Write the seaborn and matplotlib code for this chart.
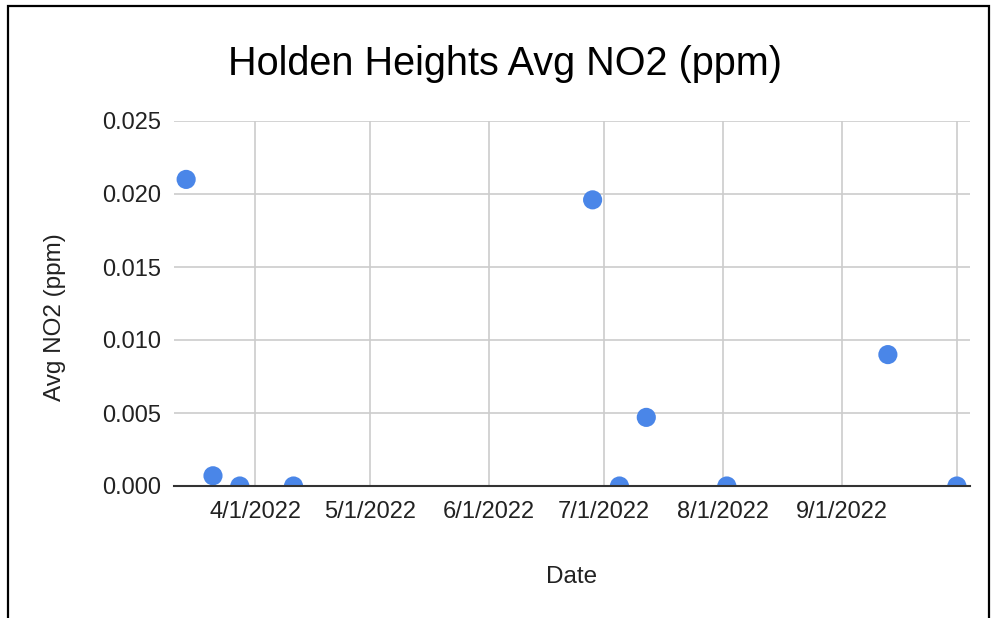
import matplotlib
matplotlib.use("Agg")
import matplotlib.pyplot as plt
import matplotlib.patches as mpatches
import pandas as pd
import seaborn as sns

# readings
dates = ["2022-03-14", "2022-03-21", "2022-03-28", "2022-04-11", "2022-06-28",
         "2022-07-05", "2022-07-12", "2022-08-02", "2022-09-13", "2022-10-01"]
no2 = [0.0210, 0.0007, 0.0000, 0.0000, 0.0196,
       0.0000, 0.0047, 0.0000, 0.0090, 0.0000]
month_ticks = ["2022-04-01", "2022-05-01", "2022-06-01", "2022-07-01",
               "2022-08-01", "2022-09-01", "2022-10-01"]
month_labels = ["4/1/2022", "5/1/2022", "6/1/2022", "7/1/2022",
                "8/1/2022", "9/1/2022", ""]
y_ticks = [0.0, 0.005, 0.010, 0.015, 0.020, 0.025]
dot_color = "#4a86e8"

df = pd.DataFrame({"Date": pd.to_datetime(dates), "Avg NO2 (ppm)": no2})

sns.set_style("white")
plt.rcParams["font.family"] = ["Liberation Sans", "DejaVu Sans"]

fig = plt.figure(figsize=(9.91, 6.18), dpi=100)
ax = fig.add_axes([174 / 991, 1 - 486 / 618, (970 - 174) / 991, (486 - 121) / 618])

sns.scatterplot(data=df, x="Date", y="Avg NO2 (ppm)", ax=ax, s=190,
                color=dot_color, edgecolor="none", zorder=3)
for coll in ax.collections:
    coll.set_facecolor([dot_color] * len(coll.get_offsets()))

# white strip under the zero line so the dots sitting on zero show only their top half
ax.add_patch(mpatches.Rectangle((0, -0.035), 1.0, 0.035, transform=ax.transAxes,
                                facecolor="white", edgecolor="none", zorder=3.5,
                                clip_on=False))

ax.set_xlim(pd.Timestamp("2022-03-10 20:00"), pd.Timestamp("2022-10-04 10:00"))
ax.set_ylim(0, 0.025)
ax.set_xticks(pd.to_datetime(month_ticks))
ax.set_xticklabels(month_labels)
ax.set_yticks(y_ticks)
ax.set_yticklabels([f"{v:.3f}" for v in y_ticks])
ax.tick_params(axis="x", length=0, pad=11, labelsize=17, colors="#222222")
ax.tick_params(axis="y", length=0, pad=9, labelsize=17, colors="#222222")

ax.grid(True, color="#cccccc", linewidth=1.2)
ax.set_axisbelow(True)
for side in ["left", "right", "top"]:
    ax.spines[side].set_visible(False)
ax.spines["bottom"].set_color("#333333")
ax.spines["bottom"].set_linewidth(1.5)
ax.spines["bottom"].set_zorder(4)

ax.set_xlabel("Date", fontsize=17.5, color="#222222", va="center")
ax.xaxis.set_label_coords(0.5, (486 - 577) / 365)
ax.set_ylabel("Avg NO2 (ppm)", fontsize=17.5, color="#222222", va="center")
ax.yaxis.set_label_coords((55 - 174) / 796, (486 - 317) / 365)

fig.text(505 / 991, 1 - 64 / 618, "Holden Heights Avg NO2 (ppm)",
         ha="center", va="center", fontsize=28.5, color="#000000")

# outer frame of the screenshot
fig.patches.append(mpatches.Rectangle((8 / 991, -0.1), (989 - 8) / 991, 1.1 - 6 / 618,
                                      transform=fig.transFigure, fill=False,
                                      edgecolor="black", linewidth=1.6))

fig.savefig("out.png", dpi=100)
